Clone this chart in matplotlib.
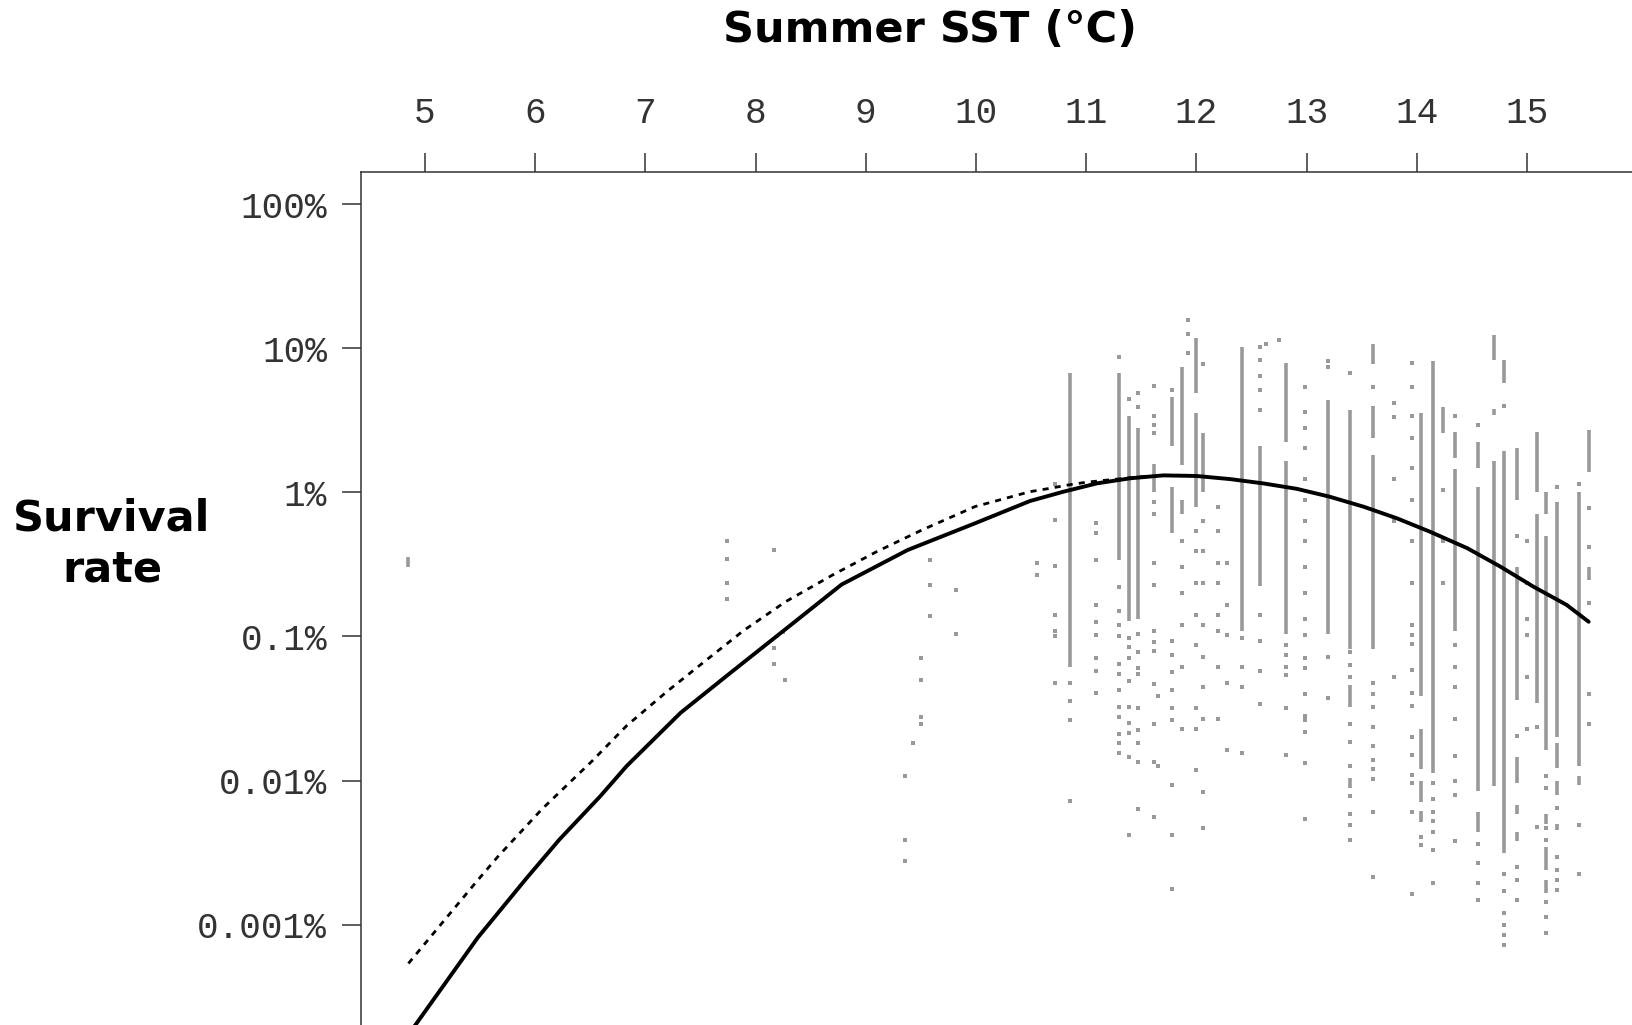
import matplotlib
matplotlib.use('Agg')
import matplotlib.pyplot as plt
import numpy as np

# model curves: SST (degC) vs log10(survival %)
solid_x = [4.85, 4.92, 5.48, 5.92, 6.22, 6.59, 6.83, 7.32, 7.76, 8.37, 8.78, 9.38, 9.99, 10.49,
           10.79, 11.10, 11.40, 11.70, 12.00, 12.31, 12.61, 12.91, 13.21, 13.52, 13.82, 14.12,
           14.46, 14.76, 15.06, 15.36, 15.56]
solid_log = [-3.76, -3.69, -3.09, -2.68, -2.41, -2.11, -1.90, -1.53, -1.26, -0.89, -0.64, -0.40,
             -0.215, -0.06, 0.004, 0.063, 0.098, 0.118, 0.114, 0.092, 0.062, 0.025, -0.030,
             -0.100, -0.180, -0.273, -0.388, -0.516, -0.655, -0.781, -0.898]

dash_x = [4.85, 5.47, 5.66, 6.06, 6.51, 6.83, 7.20, 7.56, 7.89, 8.27, 8.70, 9.10, 9.51, 9.99,
          10.49, 10.67, 10.84, 10.98, 11.14, 11.28, 11.46, 11.58]
dash_log = [-3.27, -2.70, -2.53, -2.20, -1.87, -1.62, -1.38, -1.16, -0.96, -0.76, -0.573,
            -0.411, -0.261, -0.099, 0.005, 0.028, 0.052, 0.068, 0.082, 0.092, 0.106, 0.115]

# observed points, grouped by SST column (log10 of survival %)
col_x = [7.74, 8.17, 8.25, 8.27, 9.36, 9.43, 9.50, 9.58, 9.82, 10.55, 10.72, 10.85, 11.09,
         11.30, 11.39, 11.47, 11.62, 11.65, 11.78, 11.87, 11.92, 12.00, 12.06, 12.20, 12.28,
         12.41, 12.58, 12.63, 12.75, 12.81, 12.99, 13.19, 13.39, 13.60, 13.79, 13.96, 14.04,
         14.15, 14.24, 14.35, 14.56, 14.79, 14.91, 15.00, 15.09, 15.17, 15.27, 15.47, 15.56]
col_logs = [
    [-0.34, -0.46, -0.63, -0.74],
    [-0.40, -1.08, -1.19],
    [-0.97],
    [-1.30],
    [-1.97, -2.41, -2.56],
    [-1.74],
    [-1.15, -1.30, -1.56, -1.61],
    [-0.47, -0.64, -0.86],
    [-0.68, -0.98],
    [-0.49, -0.57],
    [0.06, -0.19, -0.51, -0.85, -0.96, -1.0, -1.32],
    [-1.32, -1.45, -1.58, -2.14],
    [-0.21, -0.28, -0.47, -0.78, -0.90, -0.99, -1.15, -1.24, -1.39],
    [0.94, -0.66, -0.82, -0.92, -1.0, -1.19, -1.26, -1.37, -1.49, -1.56, -1.68, -1.74, -1.81],
    [0.65, -1.01, -1.07, -1.15, -1.31, -1.49, -1.60, -1.67, -1.84, -2.38],
    [0.69, 0.59, -0.98, -1.11, -1.22, -1.26, -1.50, -1.65, -1.74, -1.87, -2.20],
    [0.74, 0.53, 0.47, 0.41, -0.07, -0.15, -0.49, -0.64, -0.96, -1.04, -1.10, -1.33, -1.61, -1.87, -2.25],
    [-1.41, -1.90],
    [0.71, -1.03, -1.13, -1.25, -1.37, -1.50, -1.58, -2.03, -2.38, -2.75],
    [-0.34, -0.52, -0.70, -0.92, -1.21, -1.64],
    [1.20, 1.10, 0.97],
    [-0.27, -0.41, -0.63, -0.85, -1.06, -1.50, -1.64, -1.93],
    [0.89, -0.20, -0.41, -0.63, -0.92, -1.14, -1.35, -1.57, -2.08, -2.33],
    [-0.10, -0.27, -0.49, -0.63, -0.85, -0.96, -1.21, -1.57],
    [-0.49, -0.78, -0.99, -1.32, -1.79],
    [-1.01, -1.21, -1.35, -1.81],
    [1.01, 0.92, 0.81, 0.71, 0.57, -0.85, -1.03, -1.24, -1.47],
    [1.03],
    [1.06],
    [-1.06, -1.13, -1.21, -1.27, -1.50, -1.82],
    [0.73, 0.56, 0.45, 0.31, 0.09, -0.05, -0.20, -0.34, -0.52, -0.70, -0.88, -0.99, -1.15, -1.22,
     -1.40, -1.55, -1.58, -1.66, -1.88, -2.27],
    [0.91, 0.87, -1.14, -1.43],
    [0.83, -1.11, -1.20, -1.28, -1.61, -1.73, -1.90, -2.11, -2.23, -2.31, -2.41],
    [0.73, -1.32, -1.40, -1.49, -1.63, -1.76, -1.86, -1.92, -1.99, -2.22, -2.67],
    [0.62, 0.52, 0.09, -0.20, -1.28],
    [0.90, 0.73, 0.53, 0.38, 0.17, -0.05, -0.34, -0.63, -0.92, -0.99, -1.05, -1.23, -1.39, -1.48,
     -1.70, -1.82, -1.96, -2.02, -2.22, -2.79],
    [-2.39, -2.45],
    [-2.02, -2.13, -2.22, -2.28, -2.36, -2.48, -2.71],
    [0.02, -0.34, -0.63],
    [0.53, -1.06, -1.21, -1.35, -1.57, -1.83, -2.0, -2.10, -2.42],
    [0.47, -2.44, -2.57, -2.71, -2.83],
    [0.60, -2.65, -2.77, -2.92, -3.0, -3.07, -3.14],
    [-0.30, -1.69, -2.60, -2.69, -2.83],
    [-0.34, -0.63, -0.88, -0.99, -1.28, -1.64],
    [-1.63, -2.32],
    [-1.97, -2.05, -2.33, -2.41, -2.84, -2.95, -3.06],
    [0.035, -2.19, -2.53, -2.62, -2.69, -2.76],
    [0.06, -2.31, -2.65],
    [-0.11, -0.38, -0.77, -1.40, -1.61],
]

# runs of overlapping points in a column: x, low, high (log10 %)
seg_x = [4.85, 10.85, 11.30, 11.39, 11.47, 11.62, 11.78, 11.78, 11.87, 11.87, 12.00, 12.00, 12.06,
         12.41, 12.58, 12.81, 12.81, 13.19, 13.39, 13.39, 13.39, 13.60, 13.60, 13.60, 14.04, 14.04,
         14.04, 14.04, 14.15, 14.24, 14.35, 14.35, 14.56, 14.56, 14.56, 14.70, 14.70, 14.70, 14.79,
         14.79, 14.91, 14.91, 14.91, 14.91, 14.91, 15.09, 15.09, 15.17, 15.17, 15.17, 15.17, 15.17,
         15.27, 15.27, 15.27, 15.27, 15.47, 15.47, 15.56, 15.56]
seg_lo = [-0.52, -1.21, -0.47, -0.89, -0.88, 0.0, 0.32, -0.28, 0.19, -0.15, 0.69, -0.10, 0.0,
          -0.96, -0.65, 0.35, -0.98, -0.98, -1.09, -1.49, -2.05, 0.89, 0.38, -1.09, -1.41, -1.92,
          -2.15, -2.29, -1.95, 0.41, 0.24, -0.96, 0.17, -2.07, -2.36, 0.92, 0.54, -2.04, 0.76,
          -2.50, -0.05, -1.44, -2.02, -2.23, -2.42, 0.0, -1.46, -0.15, -1.79, -2.30, -2.62, -2.78,
          -1.70, -1.91, -2.10, -2.34, -1.90, -2.03, 0.14, -0.61]
seg_hi = [-0.45, 0.83, 0.83, 0.53, 0.45, 0.20, 0.66, 0.035, 0.87, -0.05, 1.07, 0.55, 0.41,
          1.01, 0.32, 0.90, 0.22, 0.64, 0.57, -1.34, -1.98, 1.03, 0.60, 0.26, 0.55, -1.64,
          -2.0, -2.21, 0.91, 0.59, 0.42, 0.16, 0.35, 0.035, -2.22, 1.09, 0.58, 0.22, 0.92,
          0.29, 0.31, -0.52, -1.84, -2.17, -2.36, 0.42, -0.15, 0.0, -0.30, -2.23, -2.46, -2.69,
          -0.07, -1.74, -2.0, -2.30, 0.0, -1.97, 0.43, -0.52]

y_ticks = [1e-3, 1e-2, 1e-1, 1, 10, 100]
y_labels = ['0.001%', '0.01%', '0.1%', '1%', '10%', '100%']
x_ticks = list(range(5, 16))

grey = '#999999'
W, H = 1633, 1025

fig = plt.figure(figsize=(W / 100, H / 100), dpi=100)
ax = fig.add_axes([361 / W, 1 - 1060 / H, (1700 - 361) / W, (1060 - 172) / H])

pts_x = [x for x, ys in zip(col_x, col_logs) for _ in ys]
pts_y = [10 ** v for ys in col_logs for v in ys]
ax.scatter(pts_x, pts_y, s=10, marker='s', color=grey, linewidths=0, zorder=2)
ax.vlines(seg_x, 10 ** np.array(seg_lo), 10 ** np.array(seg_hi), color=grey, lw=2.6, zorder=2)

ax.plot(dash_x, 10 ** np.array(dash_log), color='black', lw=2.0, ls=(0, (2.2, 2.2)), zorder=3)
ax.plot(solid_x, 10 ** np.array(solid_log), color='black', lw=2.8, zorder=4,
        solid_joinstyle='round', solid_capstyle='round')

ax.set_yscale('log')
ax.set_xlim(4.42, 16.57)
ax.set_ylim(10 ** -3.94, 10 ** 2.224)

ax.xaxis.tick_top()
ax.set_xticks(x_ticks)
ax.set_xticklabels([str(t) for t in x_ticks])
ax.set_yticks(y_ticks)
ax.set_yticklabels(y_labels)
ax.minorticks_off()
ax.tick_params(axis='both', direction='out', length=13.5, width=1.1, color='#333333',
               labelsize=26, labelcolor='#333333')
ax.tick_params(axis='x', pad=16)
ax.tick_params(axis='y', pad=11)
for lab in ax.get_xticklabels() + ax.get_yticklabels():
    lab.set_family('Liberation Mono')
for sp in ax.spines.values():
    sp.set_linewidth(1.1)
    sp.set_color('#333333')

fig.text(930 / W, 1 - 30 / H, 'Summer SST (°C)', ha='center', va='center',
         fontsize=31, fontweight='bold', family='DejaVu Sans')
fig.text(112 / W, 1 - 544 / H, 'Survival\nrate', ha='center', va='center',
         fontsize=31, fontweight='bold', family='DejaVu Sans', linespacing=1.25)

fig.savefig('out.png', dpi=100)
